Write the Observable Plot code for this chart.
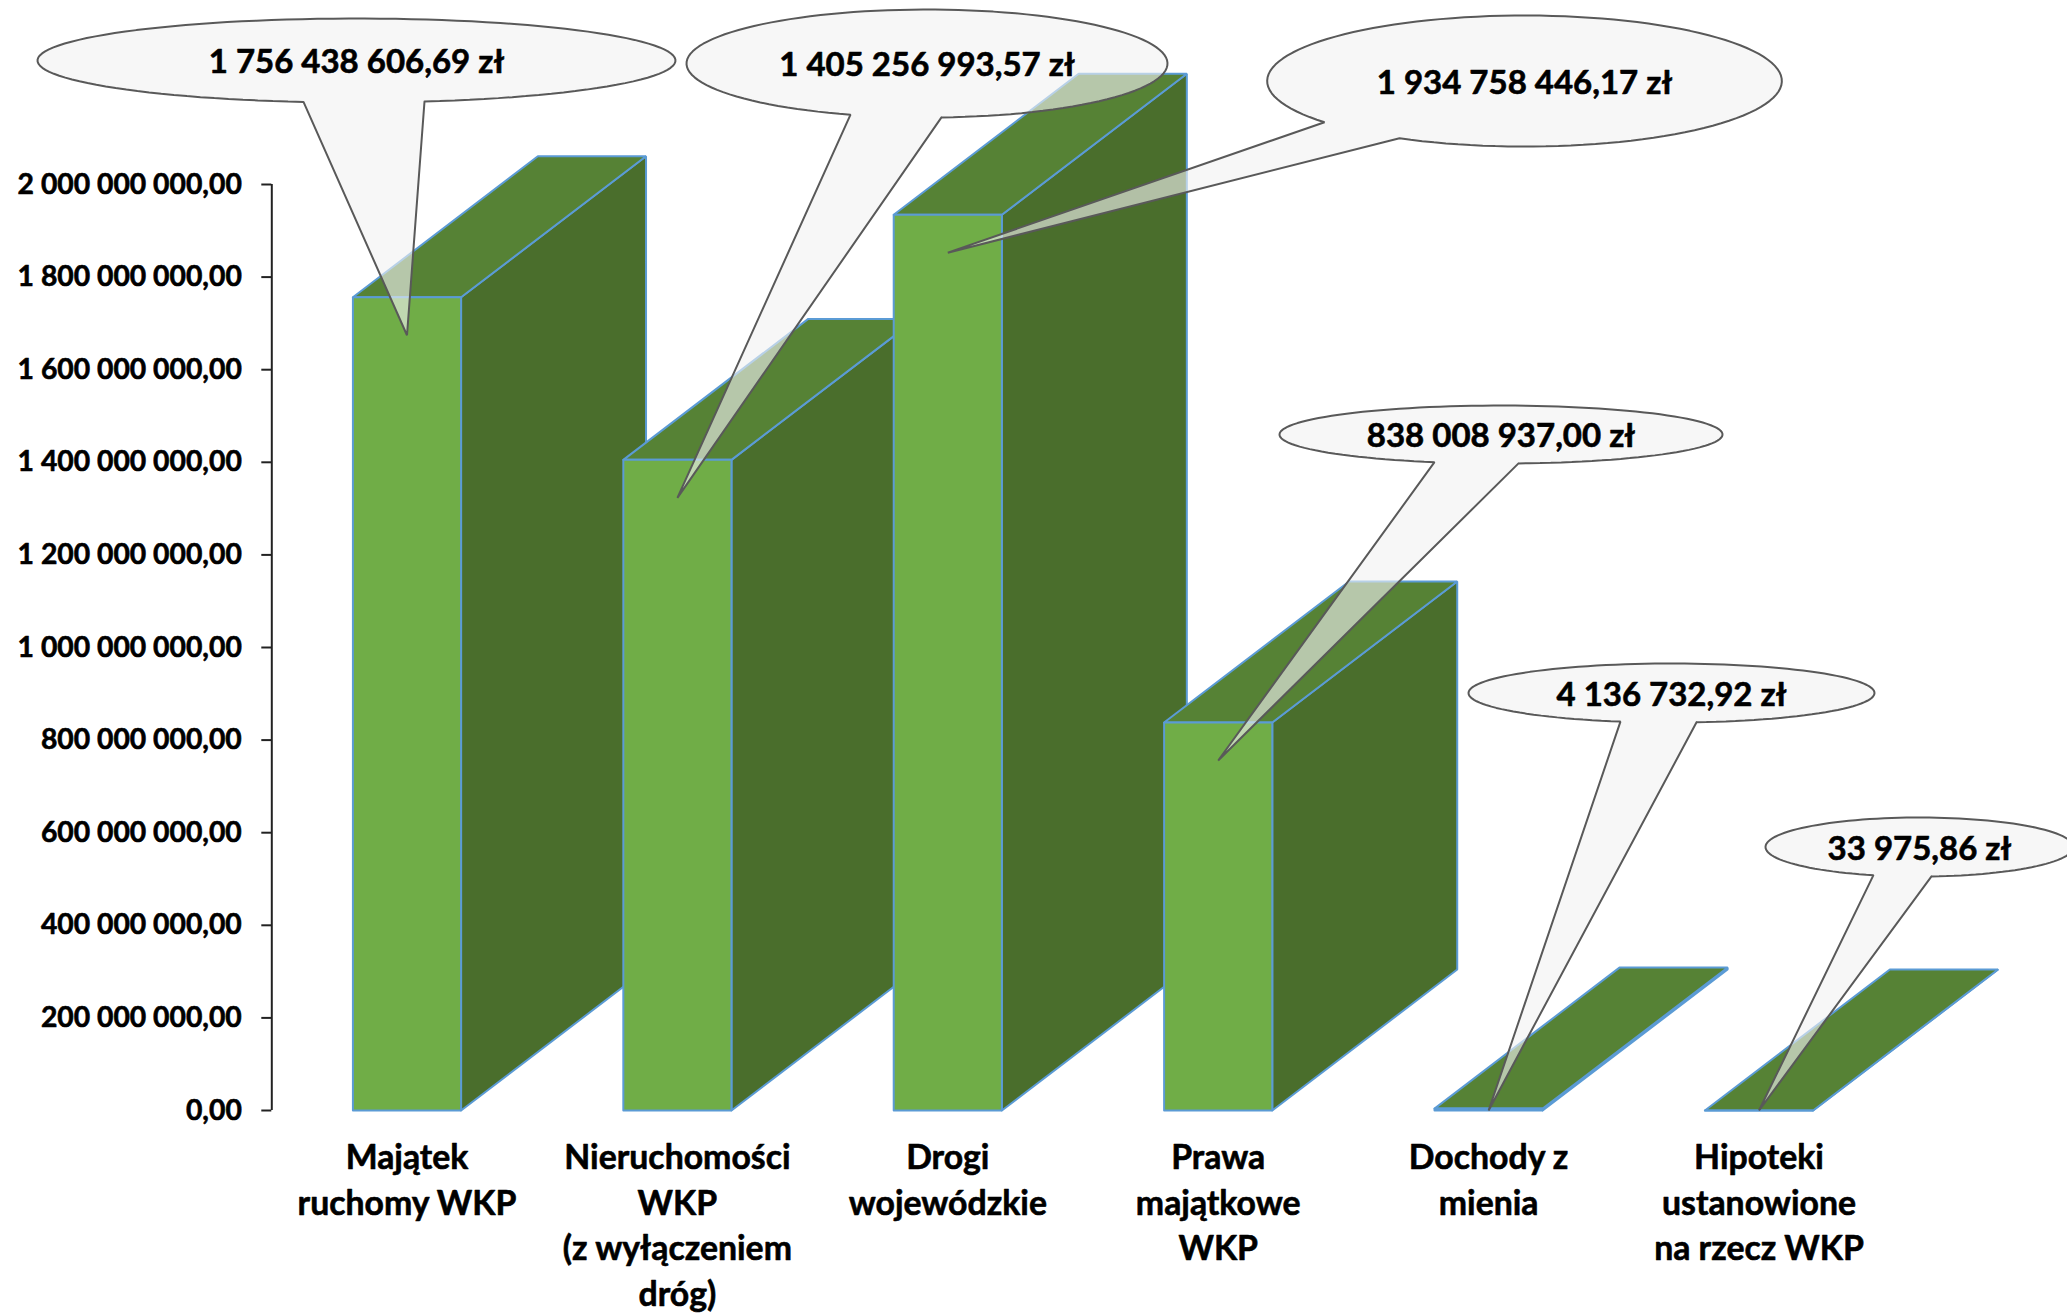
<!DOCTYPE html>
<html lang="pl">
<head>
<meta charset="utf-8">
<script src="https://cdn.jsdelivr.net/npm/d3@7"></script>
<script src="https://cdn.jsdelivr.net/npm/@observablehq/plot@0.6"></script>
<style>
  html, body { margin: 0; padding: 0; background: #fff; }
  svg { display: block; }
</style>
</head>
<body>
<div id="chart"></div>
<script>
// ---- data -------------------------------------------------------------
const categories = [
  "Majątek\nruchomy WKP",
  "Nieruchomości\nWKP\n(z wyłączeniem\ndróg)",
  "Drogi\nwojewódzkie",
  "Prawa\nmajątkowe\nWKP",
  "Dochody z\nmienia",
  "Hipoteki\nustanowione\nna rzecz WKP"
];
const values = [1756438606.69, 1405256993.57, 1934758446.17, 838008937.00, 4136732.92, 33975.86];
const valueLabels = [
  "1 756 438 606,69 zł",
  "1 405 256 993,57 zł",
  "1 934 758 446,17 zł",
  "838 008 937,00 zł",
  "4 136 732,92 zł",
  "33 975,86 zł"
];
const yTicks = d3.range(0, 2000000001, 200000000);

// ---- 3-D box projection, in scale units --------------------------------
const halfBar = 0.2, depthX = 0.684, depthY = 304.5e6;

// ---- callout layout, in scale units (category index, złoty) -------------
const calloutCx = [-0.1868, 1.9231, 4.1328, 4.0459, 4.6764, 5.5936];
const calloutCy = [2267.8e6, 2261.3e6, 2223.5e6, 1460.0e6, 901.7e6, 569.1e6];
const calloutRx = [1.1797, 0.8894, 0.9517, 0.8192, 0.7507, 0.5695];
const calloutRy = [90.7e6, 116.6e6, 141.5e6, 62.6e6, 63.7e6, 63.7e6];
const tailLeft  = [-0.3828, 1.6402, 3.3932, 3.7999, 4.4876, 5.4233];
const tailRight = [0.0647, 1.9766, 3.6706, 4.1106, 4.7690, 5.6379];
const tipInset = 82e6;

// ---- styles --------------------------------------------------------------
const FONT = "Lato, Carlito, Calibri, sans-serif";
const frontFill = "#70AD47", topFill = "#568235", sideFill = "#4A6E2C", edge = "#5B9BD5";

const pts = (...pairs) => pairs.map(([x, y]) => ({x, y}));
const poly = (points, fill) => Plot.line(points, {
  x: "x", y: "y", fill, stroke: edge, strokeWidth: 2, curve: "linear", strokeLinejoin: "miter"
});

const boxMarks = values.flatMap((v, i) => {
  const l = i - halfBar, r = i + halfBar;
  return [
    poly(pts([r, 0], [r + depthX, depthY], [r + depthX, v + depthY], [r, v], [r, 0]), sideFill),
    poly(pts([l, v], [r, v], [r + depthX, v + depthY], [l + depthX, v + depthY], [l, v]), topFill),
    poly(pts([l, 0], [r, 0], [r, v], [l, v], [l, 0]), frontFill)
  ];
});

const calloutMarks = values.map((v, i) => {
  const cx = calloutCx[i], cy = calloutCy[i], rx = calloutRx[i], ry = calloutRy[i];
  const tR = -Math.acos((tailRight[i] - cx) / rx);
  const tL = 2 * Math.PI - Math.acos((tailLeft[i] - cx) / rx);
  const outline = d3.range(0, 121).map(k => {
    const t = tR + (tL - tR) * k / 120;
    return {x: cx + rx * Math.cos(t), y: cy + ry * Math.sin(t)};
  });
  const tip = {x: i, y: Math.max(0, v - tipInset)};
  const first = outline[0];
  return Plot.line([...outline, tip, first], {
    x: "x", y: "y", fill: "#F2F2F2", fillOpacity: 0.62,
    stroke: "#595959", strokeWidth: 2, curve: "linear", strokeLinejoin: "miter"
  });
});

const number = d3.formatLocale({decimal: ",", thousands: " ", grouping: [3]}).format(",.2f");

const chart = Plot.plot({
  width: 2067,
  height: 1313,
  marginLeft: 271.3,
  marginRight: 173.3,
  marginTop: 184,
  marginBottom: 203,
  style: {background: "#fff", fontFamily: FONT},
  x: {domain: [-0.5, 5.5], axis: null},
  y: {domain: [0, 2000000000], axis: null},
  marks: [
    Plot.ruleX([-0.5], {y1: 0, y2: 2000000000, stroke: "#222", strokeWidth: 2}),
    Plot.axisY({
      ticks: yTicks, tickFormat: number, tickSize: 10, tickPadding: 20,
      stroke: "#222", strokeWidth: 2, label: null,
      fontSize: 28.3, fontWeight: 700, fill: "#000",
      textStroke: "#000", textStrokeWidth: 0.6
    }),
    ...boxMarks,
    ...calloutMarks,
    Plot.text(valueLabels, {
      x: (d, i) => calloutCx[i], y: (d, i) => calloutCy[i], text: d => d,
      fontSize: 33, fontWeight: 700, fill: "#000", dy: 2,
      stroke: "#000", strokeWidth: 0.6
    }),
    Plot.axisX({
      anchor: "bottom", ticks: d3.range(categories.length),
      tickFormat: i => categories[i], tickSize: 0, tickPadding: 26,
      label: null, lineAnchor: "top", lineHeight: 1.352,
      fontSize: 33.8, fontWeight: 700, fill: "#000",
      textStroke: "#000", textStrokeWidth: 0.6
    })
  ]
});
document.getElementById("chart").append(chart);
</script>
</body>
</html>
